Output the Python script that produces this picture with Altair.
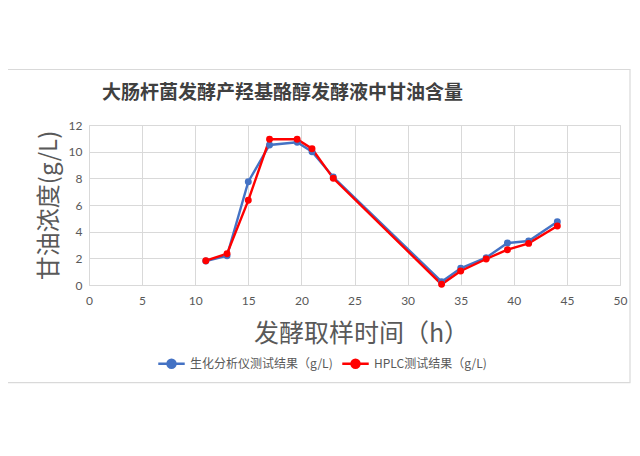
import altair as alt
import pandas as pd

hours = [11, 13, 15, 17, 19.6, 21, 23, 33.2, 35, 37.4, 39.4, 41.4, 44.1]
bio_vals = [1.8, 2.2, 7.75, 10.5, 10.7, 10.0, 8.1, 0.25, 1.25, 2.05, 3.15, 3.3, 4.75]
hplc_vals = [1.82, 2.35, 6.35, 10.93, 10.93, 10.22, 8.0, 0.05, 1.05, 1.95, 2.65, 3.12, 4.42]
series_names = ["生化分析仪测试结果（g/L)", "HPLC测试结果（g/L)"]
series_colors = ["#4472C4", "#FF0000"]
x_ticks = [0, 5, 10, 15, 20, 25, 30, 35, 40, 45, 50]
y_ticks = [0, 2, 4, 6, 8, 10, 12]

rows = []
for i, (name, vals) in enumerate(zip(series_names, [bio_vals, hplc_vals])):
    for h, v in zip(hours, vals):
        rows.append({"t": h, "v": v, "s": name, "k": i})
df = pd.DataFrame(rows)

FONT = "Noto Sans CJK SC"
GRAY = "#595959"

x = alt.X("t:Q", scale=alt.Scale(domain=[0, 50], nice=False),
          axis=alt.Axis(values=x_ticks, title="发酵取样时间（h）", titleFontSize=25,
                        titleFontWeight="normal", titleColor=GRAY, titleFont=FONT,
                        titleX=272, titleAlign="center",
                        titleY=48, titleBaseline="middle",
                        labelFont="Lato", labelFontSize=12, labelColor=GRAY,
                        labelFlush=False,
                        ticks=False, domain=False, labelPadding=10,
                        gridColor="#d9d9d9"))
y = alt.Y("v:Q", scale=alt.Scale(domain=[0, 12], nice=False),
          axis=alt.Axis(values=y_ticks, title="甘油浓度(g/L)", titleFontSize=24,
                        titleFontWeight="normal", titleColor=GRAY, titleFont=FONT,
                        titleX=-40, titleY=80, titleAlign="center", titleBaseline="middle",
                        titleAngle=270,
                        labelFont="Lato", labelFontSize=12, labelColor=GRAY,
                        labelFlush=False,
                        ticks=False, domain=False, labelPadding=7,
                        gridColor="#d9d9d9"))
color = alt.Color("s:N", scale=alt.Scale(domain=series_names, range=series_colors),
                  legend=alt.Legend(title=None, orient="none", legendX=68, legendY=224,
                                    direction="horizontal",
                                    symbolType="M-1,0H1M0.3,0A0.3,0.3,0,1,1,-0.3,0A0.3,0.3,0,1,1,0.3,0Z",
                                    symbolSize=700, symbolStrokeWidth=2.5,
                                    labelFont=FONT, labelFontSize=12, labelColor=GRAY,
                                    labelOffset=4, columnPadding=4))

base = alt.Chart(df)
lines = base.mark_line(strokeWidth=2.4).encode(x=x, y=y, color=color, order="k:Q",
                                                detail="s:N")
points = base.mark_point(filled=True, size=48, opacity=1).encode(x=x, y=y, color=color)

frame = alt.Chart(alt.Data(values=[{"a": 1}])).mark_rect(
    fill=None, stroke="#d9d9d9", strokeWidth=1.2
).encode(x=alt.value(-95), x2=alt.value(541), y=alt.value(-55.5), y2=alt.value(257.7))

chart = alt.layer(frame, lines, points).properties(
    width=531, height=160,
    title=alt.TitleParams("大肠杆菌发酵产羟基酪醇发酵液中甘油含量", anchor="start", dx=13,
                          offset=-34, fontSize=19, font=FONT, fontWeight="bold",
                          color="#404040", frame="group"),
    autosize=alt.AutoSizeParams(type="none"),
    padding={"left": 81, "top": 117, "right": 11, "bottom": 110},
).configure_view(stroke=None).configure(background="white")

chart.save("out.html", embed_options={"renderer": "svg", "actions": False})
